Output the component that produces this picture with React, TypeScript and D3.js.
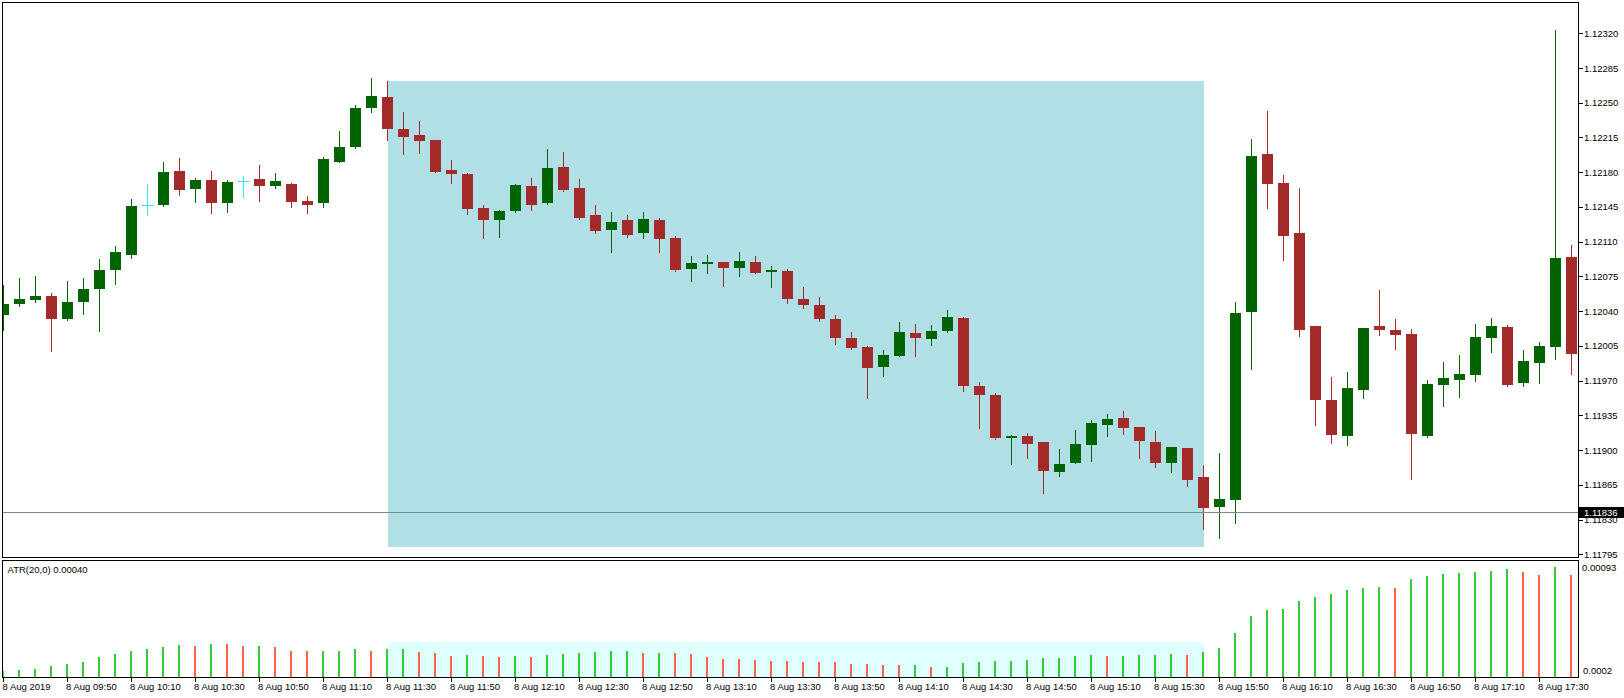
import React from "react";
import * as d3 from "d3";

const W = 1624;
const H = 698;

// 5-minute candles, 8 Aug 2019 09:30 .. 17:40
const opens = [
  1.12036, 1.12047, 1.12051, 1.12055, 1.12032, 1.12049, 1.12062, 1.12081, 1.12097, 1.12147,
  1.12147, 1.12181, 1.12163, 1.12172, 1.12149, 1.12171, 1.12173, 1.12166, 1.12168, 1.12151,
  1.12149, 1.1219, 1.12205, 1.12245, 1.12256, 1.12224, 1.12218, 1.12212, 1.12182, 1.12178,
  1.12144, 1.12132, 1.12141, 1.12166, 1.12149, 1.12185, 1.12164, 1.12137, 1.12122, 1.12132,
  1.12119, 1.12132, 1.12114, 1.12082, 1.12088, 1.1209, 1.12083, 1.1209, 1.12079, 1.1208,
  1.12052, 1.12046, 1.12032, 1.12013, 1.12004, 1.11984, 1.11995, 1.12018, 1.12012, 1.1202,
  1.12033, 1.11965, 1.11956, 1.11912, 1.11914, 1.11908, 1.11878, 1.11887, 1.11905, 1.11925,
  1.11932, 1.11923, 1.11908, 1.11887, 1.11902, 1.11873, 1.11843, 1.1185, 1.12039, 1.12198,
  1.12169, 1.12119, 1.12025, 1.1195, 1.11914, 1.11961, 1.12025, 1.12021, 1.12017, 1.11914,
  1.11966, 1.11971, 1.11976, 1.12013, 1.12024, 1.11968, 1.11988, 1.12004, 1.12095,
];
const highs = [
  1.12066, 1.12073, 1.12075, 1.12058, 1.1207, 1.12073, 1.12093, 1.12106, 1.12153, 1.12167,
  1.1219, 1.12194, 1.12174, 1.12181, 1.12172, 1.12176, 1.12187, 1.12179, 1.12169, 1.12156,
  1.12195, 1.12222, 1.12248, 1.12275, 1.12272, 1.12241, 1.12232, 1.12212, 1.12192, 1.12179,
  1.12147, 1.12142, 1.12168, 1.12174, 1.12203, 1.122, 1.12173, 1.12147, 1.1214, 1.12137,
  1.1214, 1.12134, 1.12116, 1.12096, 1.12097, 1.1209, 1.121, 1.12096, 1.12086, 1.12082,
  1.12064, 1.12054, 1.12036, 1.12019, 1.12005, 1.12001, 1.12029, 1.12027, 1.12026, 1.12041,
  1.12034, 1.11969, 1.11958, 1.11915, 1.11917, 1.11908, 1.11901, 1.1192, 1.1193, 1.11936,
  1.11939, 1.11923, 1.11919, 1.11903, 1.11902, 1.11885, 1.11897, 1.12049, 1.12213, 1.12242,
  1.12177, 1.12164, 1.12025, 1.11974, 1.11979, 1.12023, 1.12061, 1.12032, 1.12022, 1.11971,
  1.11989, 1.11996, 1.12027, 1.12033, 1.12026, 1.12001, 1.12009, 1.12323, 1.12107,
];
const lows = [
  1.12021, 1.12045, 1.12049, 1.12, 1.12031, 1.12037, 1.1202, 1.12067, 1.12094, 1.12138,
  1.12146, 1.12157, 1.1215, 1.12139, 1.1214, 1.12155, 1.12151, 1.12164, 1.12145, 1.12139,
  1.12145, 1.1219, 1.12204, 1.12241, 1.12212, 1.12198, 1.12199, 1.1218, 1.12169, 1.12138,
  1.12114, 1.12115, 1.1214, 1.12142, 1.12148, 1.12161, 1.12133, 1.12119, 1.121, 1.12115,
  1.12114, 1.121, 1.1208, 1.1207, 1.12078, 1.12065, 1.12075, 1.12078, 1.12064, 1.12048,
  1.12043, 1.1203, 1.12007, 1.12002, 1.11953, 1.11975, 1.11995, 1.11995, 1.12006, 1.12019,
  1.1196, 1.11922, 1.11911, 1.11886, 1.11892, 1.11857, 1.11874, 1.11887, 1.11889, 1.11914,
  1.11916, 1.11892, 1.11883, 1.11878, 1.11864, 1.1182, 1.11811, 1.11827, 1.11982, 1.12144,
  1.12092, 1.12015, 1.11925, 1.11907, 1.11905, 1.11953, 1.12016, 1.12002, 1.11871, 1.11913,
  1.11944, 1.11954, 1.1197, 1.11999, 1.11965, 1.11965, 1.11968, 1.11992, 1.11977,
];
const closes = [
  1.12047, 1.12052, 1.12055, 1.12032, 1.12049, 1.12062, 1.12081, 1.121, 1.12146, 1.12147,
  1.1218, 1.12162, 1.12172, 1.12149, 1.1217, 1.12171, 1.12166, 1.12171, 1.1215, 1.12147,
  1.12193, 1.12205, 1.12245, 1.12257, 1.12224, 1.12216, 1.12211, 1.1218, 1.12178, 1.12143,
  1.12132, 1.12141, 1.12167, 1.12147, 1.12184, 1.12162, 1.12134, 1.12121, 1.1213, 1.12117,
  1.12133, 1.12113, 1.12081, 1.12089, 1.1209, 1.12083, 1.12091, 1.12078, 1.12081, 1.12052,
  1.12046, 1.12032, 1.12013, 1.12003, 1.11983, 1.11996, 1.12019, 1.12013, 1.1202, 1.12034,
  1.11965, 1.11956, 1.11912, 1.11914, 1.11906, 1.11879, 1.11886, 1.11906, 1.11927, 1.11931,
  1.11922, 1.11909, 1.11887, 1.11903, 1.1187, 1.11842, 1.11851, 1.12038, 1.12196, 1.12168,
  1.12116, 1.12021, 1.1195, 1.11915, 1.11963, 1.12023, 1.12021, 1.12016, 1.11916, 1.11967,
  1.11973, 1.11977, 1.12014, 1.12025, 1.11966, 1.1199, 1.12005, 1.12094, 1.11997,
];

// ATR(20) values
const atrValues = [
  0.000193, 0.0002, 0.000207, 0.000228, 0.000243, 0.000257, 0.000292, 0.000314, 0.000335, 0.000349,
  0.000363, 0.000378, 0.000371, 0.000385, 0.000383, 0.000371, 0.000372, 0.000363, 0.000335, 0.000334,
  0.000335, 0.000337, 0.000349, 0.000335, 0.000349, 0.00035, 0.000328, 0.000321, 0.0003, 0.000307,
  0.0003, 0.000292, 0.0003, 0.000292, 0.000307, 0.000314, 0.000321, 0.000328, 0.000335, 0.000336,
  0.000321, 0.000322, 0.000321, 0.000314, 0.000292, 0.000278, 0.000277, 0.000271, 0.000264, 0.000263,
  0.000257, 0.000256, 0.000255, 0.000243, 0.000242, 0.000236, 0.000235, 0.000236, 0.000221, 0.000222,
  0.00025, 0.000257, 0.000264, 0.000265, 0.000271, 0.000285, 0.000286, 0.0003, 0.000307, 0.0003,
  0.000301, 0.000307, 0.000308, 0.000314, 0.000307, 0.000328, 0.000356, 0.000463, 0.000584, 0.000626,
  0.000634, 0.00069, 0.000719, 0.00074, 0.000769, 0.000783, 0.00079, 0.000783, 0.000847, 0.000868,
  0.000882, 0.000889, 0.000896, 0.000904, 0.000918, 0.000896, 0.000875, 0.000932, 0.000875,
];

const timeLabels = [
  "8 Aug 2019", "8 Aug 09:50", "8 Aug 10:10", "8 Aug 10:30", "8 Aug 10:50", "8 Aug 11:10",
  "8 Aug 11:30", "8 Aug 11:50", "8 Aug 12:10", "8 Aug 12:30", "8 Aug 12:50", "8 Aug 13:10",
  "8 Aug 13:30", "8 Aug 13:50", "8 Aug 14:10", "8 Aug 14:30", "8 Aug 14:50", "8 Aug 15:10",
  "8 Aug 15:30", "8 Aug 15:50", "8 Aug 16:10", "8 Aug 16:30", "8 Aug 16:50", "8 Aug 17:10",
  "8 Aug 17:30",
];
const labelEvery = 4;

const priceTicks = [
  1.11795, 1.1183, 1.11865, 1.119, 1.11935, 1.1197, 1.12005, 1.1204, 1.12075, 1.1211,
  1.12145, 1.1218, 1.12215, 1.1225, 1.12285, 1.1232,
];
const bidPrice = 1.11836;

const zoneStart = 24;
const zoneEnd = 75;
const zoneHigh = 1.12272;
const zoneLow = 1.11802;
const atrZoneLevel = 0.0004;
const atrTitle = "ATR(20,0) 0.00040";
const atrMax = 0.00093;
const atrMin = 0.0002;

const FONT = "'Liberation Sans', Arial, sans-serif";

export default function App() {
  const main = { left: 2.5, right: 1578.5, top: 2.5, bottom: 557.5 };
  const sub = { top: 560.5, bottom: 677.5 };

  const x = d3.scaleLinear().domain([0, opens.length - 1]).range([3.5, 3.5 + 16 * (opens.length - 1)]);
  const y = d3.scaleLinear().domain([1.11795, 1.1232]).range([554.3, 33.3]);
  const ya = d3.scaleLinear().domain([atrMin, atrMax]).range([670, 567.3]);

  const fmt = d3.format(".5f");

  const candles = opens.map((o, i) => {
    const c = closes[i];
    const xc = x(i);
    const doji = o === c;
    const up = c > o;
    const color = doji ? "#22EEF5" : up ? "#006400" : "#A52A2A";
    const yTop = Math.round(y(Math.max(o, c)));
    const yBot = Math.round(y(Math.min(o, c)));
    return (
      <g key={i}>
        <line x1={xc} x2={xc} y1={Math.round(y(highs[i]))} y2={Math.round(y(lows[i])) + 1} stroke={color} strokeWidth={1} />
        {doji ? (
          <line x1={xc - 5.5} x2={xc + 5.5} y1={yTop + 0.5} y2={yTop + 0.5} stroke={color} strokeWidth={1} />
        ) : (
          <rect x={xc - 5.5} y={yTop} width={11} height={Math.max(1, yBot - yTop)} fill={color} />
        )}
      </g>
    );
  });

  const bars = atrValues.map((v, i) => {
    const up = i === 0 || v > atrValues[i - 1];
    const xc = x(i);
    const yt = ya(v);
    return (
      <rect key={i} x={Math.floor(xc) - 1} y={yt} width={2} height={sub.bottom - yt} fill={up ? "#32CD32" : "#FF6347"} />
    );
  });

  const bidY = Math.floor(y(bidPrice)) - 0.5;

  return (
    <svg
      width={W}
      height={H}
      viewBox={`0 0 ${W} ${H}`}
      style={{ position: "absolute", left: 0, top: 0, display: "block", background: "#fff" }}
      fontFamily={FONT}
    >
      <defs>
        <clipPath id="mainClip">
          <rect x={main.left} y={main.top} width={main.right - main.left} height={main.bottom - main.top} />
        </clipPath>
        <clipPath id="subClip">
          <rect x={main.left} y={sub.top} width={main.right - main.left} height={sub.bottom - sub.top} />
        </clipPath>
      </defs>
      <rect x={0} y={0} width={W} height={H} fill="#ffffff" />

      {/* main price panel */}
      <g clipPath="url(#mainClip)" shapeRendering="crispEdges">
        <rect
          x={x(zoneStart)}
          y={y(zoneHigh)}
          width={x(zoneEnd) - x(zoneStart)}
          height={y(zoneLow) - y(zoneHigh)}
          fill="#B0E0E6"
        />
        {candles}
        <line x1={main.left} x2={main.right} y1={bidY} y2={bidY} stroke="#778899" strokeWidth={1} />
      </g>
      <rect
        x={main.left}
        y={main.top}
        width={main.right - main.left}
        height={main.bottom - main.top}
        fill="none"
        stroke="#000"
        strokeWidth={1}
        shapeRendering="crispEdges"
      />

      {/* price axis */}
      <g fontSize={9.5} fill="#000">
        {priceTicks.map((t) => (
          <g key={t}>
            <line x1={main.right} x2={main.right + 4} y1={Math.round(y(t)) + 0.5} y2={Math.round(y(t)) + 0.5} stroke="#000" shapeRendering="crispEdges" />
            <text x={1584} y={y(t) + 3.5}>{fmt(t)}</text>
          </g>
        ))}
      </g>
      <rect x={1579} y={bidY - 5.5} width={W - 1579} height={11} fill="#000" />
      <text x={1584} y={bidY + 3.5} fontSize={9.5} fill="#fff">{fmt(bidPrice)}</text>

      {/* ATR sub-window */}
      <g clipPath="url(#subClip)" shapeRendering="crispEdges">
        <rect
          x={x(zoneStart)}
          y={ya(atrZoneLevel)}
          width={x(zoneEnd) - x(zoneStart)}
          height={sub.bottom - ya(atrZoneLevel)}
          fill="#E0FFFF"
        />
        {bars}
      </g>
      <rect
        x={main.left}
        y={sub.top}
        width={main.right - main.left}
        height={sub.bottom - sub.top}
        fill="none"
        stroke="#000"
        strokeWidth={1}
        shapeRendering="crispEdges"
      />
      <text x={7.5} y={572.5} fontSize={9.5} fill="#000">{atrTitle}</text>
      <text x={1582} y={ya(atrMax) + 3.5} fontSize={9.5} fill="#000">{fmt(atrMax)}</text>
      <text x={1583} y={ya(atrMin) + 3.5} fontSize={9.5} fill="#000">{String(atrMin)}</text>

      {/* time axis */}
      <g fontSize={9.5} fill="#000">
        {timeLabels.map((lab, j) => {
          const xi = x(j * labelEvery);
          return (
            <g key={lab}>
              <line x1={xi} x2={xi} y1={sub.bottom} y2={sub.bottom + 4} stroke="#000" shapeRendering="crispEdges" />
              <text x={Math.max(2.5, xi - 1.5)} y={690}>{lab}</text>
            </g>
          );
        })}
      </g>
    </svg>
  );
}
